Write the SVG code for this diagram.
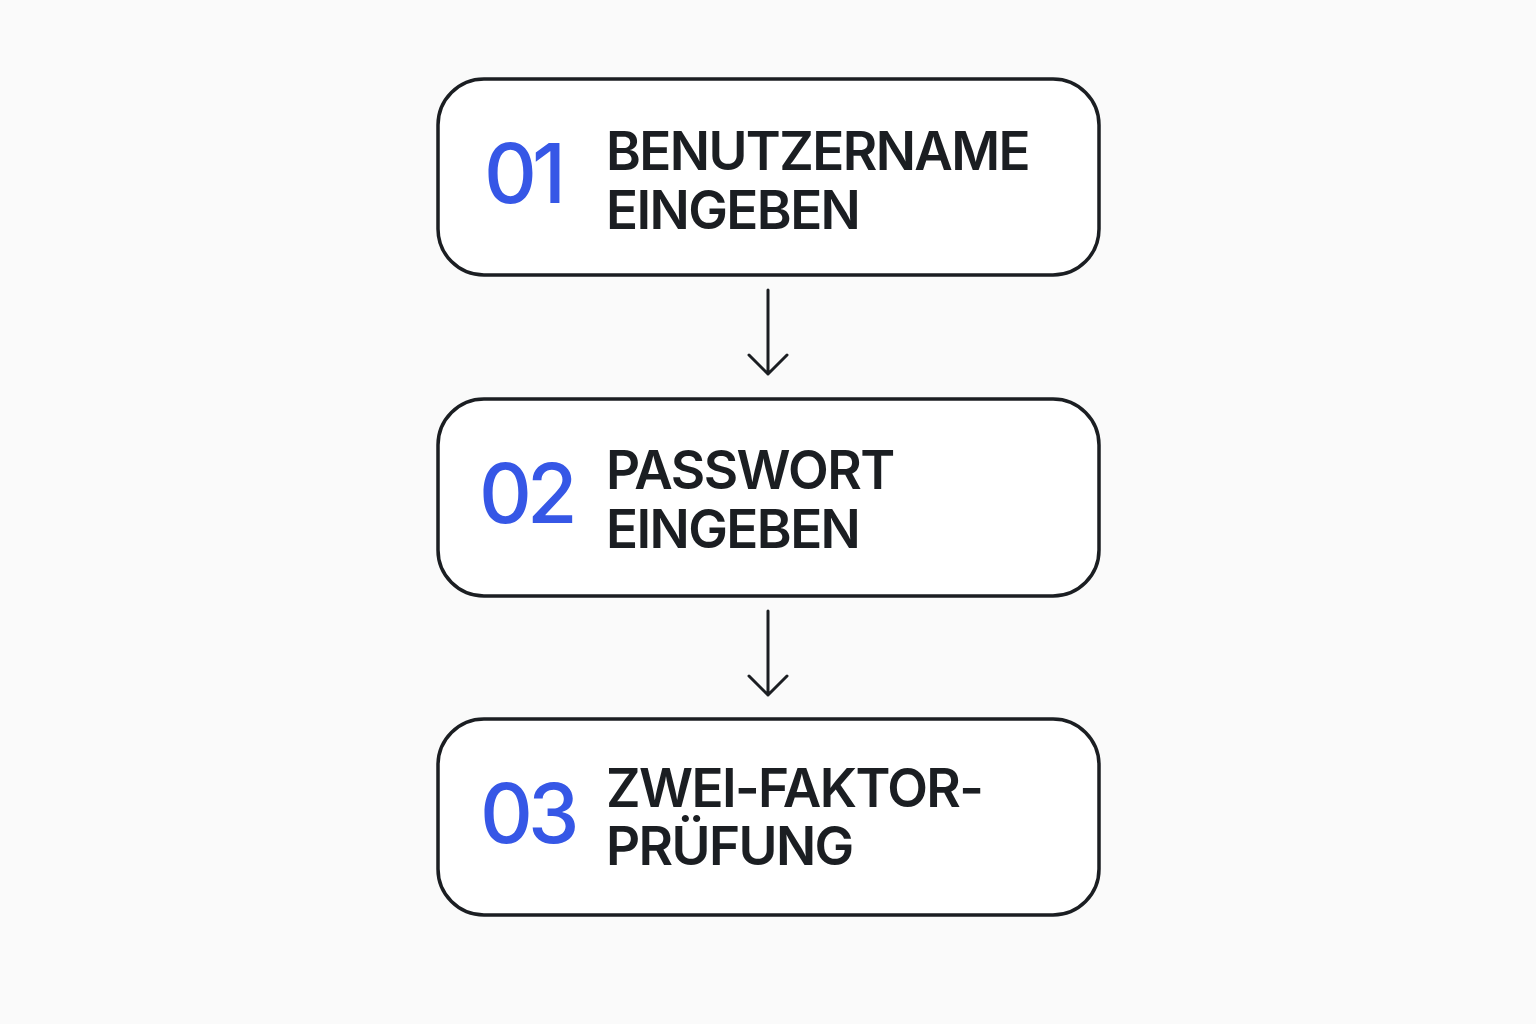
<svg xmlns="http://www.w3.org/2000/svg" width="1536" height="1024" viewBox="0 0 1536 1024">
<style>
.box{fill:#ffffff;stroke:#1b1e22;stroke-width:3.5}
.num{font-family:Inter,"Noto Sans",sans-serif;font-size:82px;font-weight:500;fill:#3657e6;letter-spacing:-5px}
.lbl{font-family:Inter,"Noto Sans",sans-serif;font-size:53px;font-weight:600;fill:#1b1e22;letter-spacing:-1.6px}
.conn{fill:none;stroke:#1b1e22;stroke-width:3;stroke-linecap:round;stroke-linejoin:round}
</style>
<rect width="1536" height="1024" fill="#fafafa"/>
<g id="node1">
<rect class="box" x="438" y="79" width="661" height="196" rx="46"/>
<text class="num" x="484" y="203">01</text>
<text class="lbl" x="606" y="170">BENUTZERNAME</text>
<text class="lbl" x="606" y="229">EINGEBEN</text>
</g>
<g id="node2">
<rect class="box" x="438" y="399" width="661" height="197" rx="46"/>
<text class="num" x="479" y="523">02</text>
<text class="lbl" x="606" y="489">PASSWORT</text>
<text class="lbl" x="606" y="548">EINGEBEN</text>
</g>
<g id="node3">
<rect class="box" x="438" y="719" width="661" height="196" rx="46"/>
<text class="num" x="480" y="843">03</text>
<text class="lbl" x="606" y="807">ZWEI-FAKTOR-</text>
<text class="lbl" x="606" y="865">PRÜFUNG</text>
</g>
<g id="connectors">
<path class="conn" d="M768 290 V374 M749 355 L768 374 L787 355"/>
<path class="conn" d="M768 611 V695 M749 676 L768 695 L787 676"/>
</g>
</svg>
